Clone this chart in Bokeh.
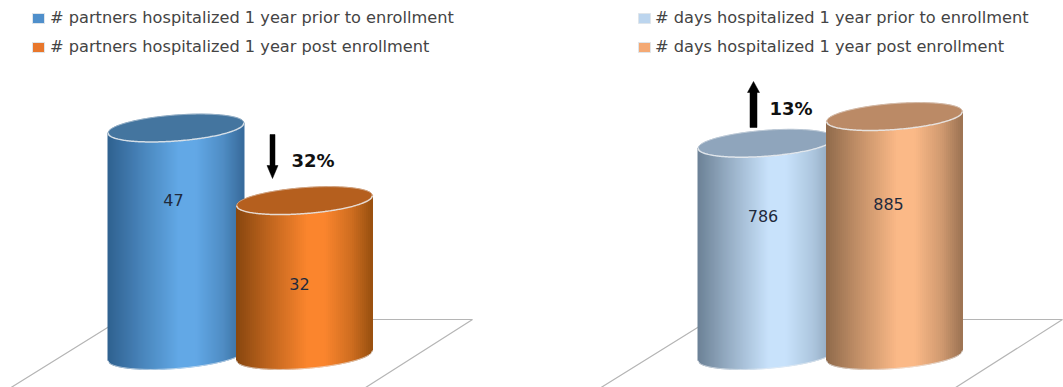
from bokeh.core.properties import value
from bokeh.embed import file_html
from bokeh.layouts import row
from bokeh.models import Range1d
from bokeh.plotting import figure
from bokeh.resources import INLINE
import numpy as np

# Values shown in each panel
partners_labels = ["# partners hospitalized 1 year prior to enrollment",
                   "# partners hospitalized 1 year post enrollment"]
partners_values = [47, 32]
partners_change = "32%"

days_labels = ["# days hospitalized 1 year prior to enrollment",
               "# days hospitalized 1 year post enrollment"]
days_values = [786, 885]
days_change = "13%"

# Shading of each cylinder: left edge, centre, right edge, cap, swatch
BLUE = ("#2f618f", "#62a8e6", "#386b9b", "#44759f", "#4f8fcb")
ORANGE = ("#87460f", "#fb852d", "#98500f", "#b55f1e", "#e8772c")
SKY = ("#6c8196", "#c8e2fb", "#8ba3ba", "#8fa5bc", "#bcd5ee")
PEACH = ("#8f6a4b", "#fbb987", "#9c7353", "#bb8a66", "#f4a974")

WIN_H = 387
BASE_PX = 355      # pixel row of the cylinders' base centre
HALF_W = 68.0      # cylinder half width
CAP_B = 13.0       # half height of the elliptical cap
CAP_K = 5.0 / 68   # rise of the cap across its width
FONT = "DejaVu Sans"


def hex_rgb(c):
    return np.array([int(c[i:i + 2], 16) for i in (1, 3, 5)], dtype=float)


def shade(colors, u):
    """Colour across a cylinder body, u running from -1 to 1."""
    stops = [-1.0, -0.55, 0.05, 0.3, 0.7, 1.0]
    left, mid, right = map(hex_rgb, colors[:3])
    table = [left, 0.55 * left + 0.45 * mid, mid, mid,
             0.45 * right + 0.55 * mid, right]
    rgb = [np.interp(u, stops, [t[i] for t in table]) for i in range(3)]
    return "#%02x%02x%02x" % tuple(int(round(v)) for v in rgb)


def cylinder(p, cx, val, colors, scale):
    base = 0.0
    top = val
    b = CAP_B / scale
    k = CAP_K / scale

    def edge(y0, x, sign):
        u = (x - cx) / HALF_W
        return y0 + k * (x - cx) + sign * b * np.sqrt(np.clip(1 - u * u, 0, 1))

    n = 68
    xs_edges = np.linspace(cx - HALF_W, cx + HALF_W, n + 1)
    xs, ys, cols = [], [], []
    for x0, x1 in zip(xs_edges[:-1], xs_edges[1:]):
        xs.append([x0, x1, x1, x0])
        ys.append([edge(top, x0, -1), edge(top, x1, -1),
                   edge(base, x1, -1), edge(base, x0, -1)])
        cols.append(shade(colors, (x0 + x1) / 2 / HALF_W - cx / HALF_W))
    p.patches(xs, ys, fill_color=cols, line_color=cols, line_width=1)

    # Pale rim along the base
    fine = np.linspace(cx - HALF_W, cx + HALF_W, 121)
    p.line(fine, edge(base, fine, -1), line_color="#e9eef2", line_width=1, line_alpha=0.7)

    # Cap
    cap_x = np.concatenate([fine, fine[::-1]])
    cap_y = np.concatenate([edge(top, fine, 1), edge(top, fine[::-1], -1)])
    p.patch(cap_x, cap_y, fill_color=colors[3], line_color=colors[3], line_width=1)
    p.line(fine, edge(top, fine, -1), line_color="#eef1f3", line_width=1.5, line_alpha=0.85)
    p.line(fine, edge(top, fine, 1), line_color="#eef1f3", line_width=0.8, line_alpha=0.55)


def panel(x_start, x_stop, off, labels, values, scale, colors, label_pos,
          change, arrow_x, arrow_rows, change_pos):
    width = x_stop - x_start
    p = figure(width=width, height=WIN_H, toolbar_location=None, output_backend="svg",
               x_range=Range1d(x_start, x_stop),
               y_range=Range1d((BASE_PX - WIN_H) / scale, BASE_PX / scale),
               min_border=0, outline_line_color=None, background_fill_color="white",
               border_fill_color="white")
    p.axis.visible = False
    p.grid.visible = False

    def y_at(px):
        return (BASE_PX - px) / scale

    # Floor of the 3-D plot area
    p.line([off - 20, off + 120, off + 472, off + 340],
           [y_at(406), y_at(319), y_at(319), y_at(403)],
           line_color="#b5b5b5", line_width=1.2)

    centres = [off + 175.5, off + 304.0]
    for cx, val, col in zip(centres, values, colors):
        cylinder(p, cx, val, col, scale)

    # Value labels
    for val, (lx, ly) in zip(values, label_pos):
        p.text([lx], [y_at(ly)], text=[str(val)], text_align="center",
               text_baseline="middle", text_font=value(FONT), text_font_size="16px",
               text_color="#1f2a3c")

    # Legend
    swatch_x = off + 32 if off == 0 else off + 48
    text_x = off + 49.5 if off == 0 else off + 64.5
    for lab, col, row_px in zip(labels, colors, (18, 47)):
        p.quad(left=[swatch_x], right=[swatch_x + 12], top=[y_at(row_px - 5)],
               bottom=[y_at(row_px + 5)], fill_color=col[4], line_color="#dfe5ea", line_width=1)
        p.text([text_x], [y_at(row_px - 1)], text=[lab], text_baseline="middle",
               text_font=value(FONT), text_font_size="16.2px", text_color="#444444")

    # Change arrow and its percentage
    tail, neck, tip, shaft_w, head_w = arrow_rows
    ax = [arrow_x - shaft_w / 2, arrow_x + shaft_w / 2, arrow_x + shaft_w / 2,
          arrow_x + head_w / 2, arrow_x, arrow_x - head_w / 2, arrow_x - shaft_w / 2]
    ay = [tail, tail, neck, neck, tip, neck, neck]
    p.patch(ax, [y_at(v) for v in ay], fill_color="black", line_color="black", line_width=0.5)
    p.text([change_pos[0]], [y_at(change_pos[1])], text=[change], text_baseline="middle",
           text_font=value(FONT), text_font_size="18px", text_font_style="bold",
           text_color="#111111")
    return p


left = panel(0, 531, 0, partners_labels, partners_values, 4.84, (BLUE, ORANGE),
             ((173, 199), (299, 283)), partners_change, 272, (134, 165, 178, 5, 11), (291, 160))
right = panel(531, 1063, 590, days_labels, days_values, 0.27, (SKY, PEACH),
              ((762.5, 215), (888, 203)), days_change, 753, (127, 92, 81, 7, 12), (769, 108))

open("out.html", "w").write(file_html(row(left, right, spacing=0), INLINE))
